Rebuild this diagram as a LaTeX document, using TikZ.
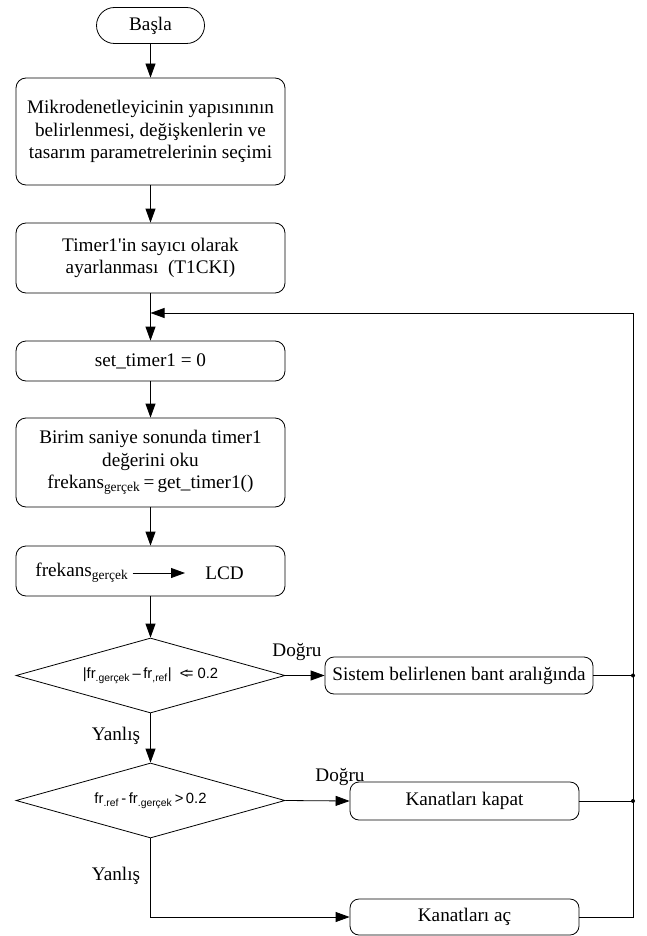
\documentclass[tikz,border=0pt]{standalone}
\usepackage{fontspec}
\setmainfont{Liberation Serif}
\newfontfamily\arialf{Liberation Sans}
\usetikzlibrary{arrows.meta,shapes.geometric}
\begin{document}
\begin{tikzpicture}[x=1pt,y=-1pt,line width=0.8pt,
  >={Triangle[length=14pt,width=10pt]},
  base/.style={draw,inner sep=0pt,align=center,font=\fontsize{19.2}{22.5}\selectfont},
  proc/.style={base,rounded corners=10pt,minimum width=269pt},
  side/.style={base,rounded corners=9pt},
  dec/.style={draw,diamond,aspect=3.6,inner sep=0pt,minimum width=269pt,minimum height=75pt,font=\arialf\fontsize{14.8}{16}\selectfont},
  lbl/.style={font=\fontsize{19.2}{22}\selectfont,inner sep=0pt},
  txt/.style={font=\fontsize{19.2}{22}\selectfont,inner sep=0pt}
]
\useasboundingbox (0,0) rectangle (646,936);

\node[base,rounded corners=18pt,minimum width=108pt,minimum height=36pt] (start) at (150.5,25.5) {Başla};
\node[proc,minimum height=107pt] (b1) at (150.5,131.5) {Mikrodenetleyicinin yapısınının\\belirlenmesi, değişkenlerin ve\\tasarım parametrelerinin seçimi};
\node[proc,minimum height=70pt] (b2) at (150.5,258) {Timer1\textquotesingle in sayıcı olarak\\ayarlanması\ \ (T1CKI)};
\coordinate (merge) at (150.5,313);
\node[proc,minimum height=40pt] (b3) at (150.5,361) {set\_timer1 = 0};
\node[proc,minimum height=89pt] (b4) at (150.5,462.5) {Birim saniye sonunda timer1\\değerini oku\\frekans\textsubscript{gerçek}\,=\,get\_timer1()};
\node[proc,minimum height=50pt] (b5) at (150.5,571) {};
\node[txt,anchor=west] (fk) at (35,573) {frekans\textsubscript{gerçek}};
\node[txt,anchor=west] (lcd) at (205,573) {LCD};
\draw[->] (fk.east) ++(4,0) coordinate (fa) -- (fa -| 185,0) coordinate (fb);

\node[dec] (d1) at (150.5,675.5) {|fr\textsubscript{.gerçek}\,–\,fr\textsubscript{,ref}|\ \ <\kern-0.25em=\ 0.2};
\node[dec] (d2) at (150.5,800.5) {fr\textsubscript{.ref}\,-\,fr\textsubscript{.gerçek}\,>\,0.2};

\node[side,minimum width=268pt,minimum height=37pt] (s1) at (459,675.5) {Sistem belirlenen bant aralığında};
\node[side,minimum width=229pt,minimum height=38pt] (s2) at (464.5,801) {Kanatları kapat};
\node[side,minimum width=229pt,minimum height=36pt] (s3) at (464.5,917) {Kanatları aç};

\coordinate (rx) at (633,0);

\draw[->] (start) -- (b1);
\draw[->] (b1) -- (b2);
\draw[->] (b2) -- (b3);
\draw[->] (b3) -- (b4);
\draw[->] (b4) -- (b5);
\draw[->] (b5) -- (d1);
\draw[->] (d1) -- (d2);
\draw[->] (d1.east) -- (s1.west);
\draw[->] (d2.east) -- (s2.west);
\draw[->] (d2.south) -- (d2.south |- s3.west) -- (s3.west);

\draw (s1.east) -- (s1.east -| rx) coordinate (j1);
\draw (s2.east) -- (s2.east -| rx) coordinate (j2);
\draw[->] (s3.east) -- (s3.east -| rx) -- (rx |- merge) -- (merge);
\fill (j1) circle (2pt);
\fill (j2) circle (2pt);

\node[lbl] (t1) at (297,652) {Doğru};
\node[lbl] (t2) at (340,777) {Doğru};
\node[lbl] (f1) at (116,736) {Yanlış};
\node[lbl] (f2) at (116,876) {Yanlış};
\end{tikzpicture}
\end{document}
